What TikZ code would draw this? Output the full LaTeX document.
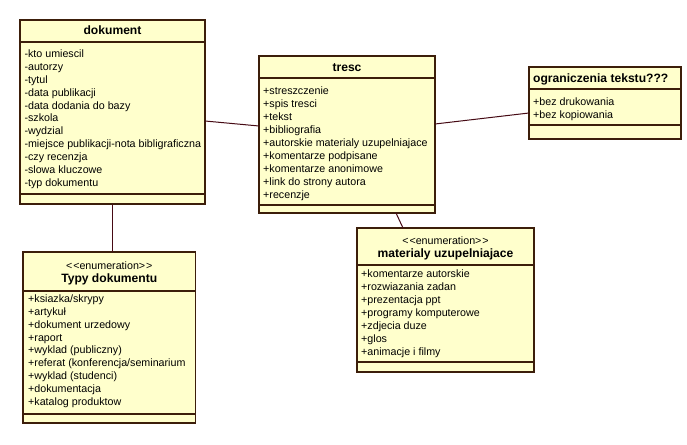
\documentclass[tikz,border=0pt]{standalone}
\usepackage{fontspec}
\setmainfont{Liberation Sans}
\definecolor{classfill}{RGB}{255,255,204}
\definecolor{classline}{RGB}{60,30,10}
\definecolor{linkline}{RGB}{70,10,20}
\tikzset{
  cls/.style={draw=classline, fill=classfill, line width=1.1pt, anchor=north west, inner sep=0pt, outer sep=0pt},
  sep/.style={draw=classline, line width=1.1pt},
  attr/.style={anchor=base west, inner sep=0pt, font=\fontsize{10.7}{13}\selectfont, text=black},
  ttl/.style={anchor=base, inner sep=0pt, font=\fontsize{12.1}{14}\selectfont\bfseries, text=black},
  ttlw/.style={ttl, anchor=base west},
  stereo/.style={anchor=base, inner sep=0pt, font=\fontsize{10.7}{13}\selectfont, text=black},
  link/.style={draw=linkline, line width=1pt},
}
\newcommand{\enumst}{<\kern1pt<enumeration>\kern1pt>}
\begin{document}
\begin{tikzpicture}[x=1pt,y=-1pt]
\useasboundingbox (0,0) rectangle (687,444);
\fill[white] (0,0) rectangle (687,444);

% ---------- dokument ----------
\node[cls, minimum width=185pt, minimum height=184pt] (dok) at (20,20) {};
\draw[sep] ([yshift=-22pt]dok.north west) -- ([yshift=-22pt]dok.north east);
\draw[sep] ([yshift=-174pt]dok.north west) -- ([yshift=-174pt]dok.north east);
\node[ttl] (dokT) at (112.5,35) {dokument};
\foreach \t [count=\i] in {-kto umiescil,-autorzy,-tytul,-data publikacji,-data dodania do bazy,-szkola,-wydzial,-miejsce publikacji-nota bibligraficzna,-czy recenzja,-slowa kluczowe,-typ dokumentu}
  \node[attr] (dokA\i) at (24.3,{57.3+12.93*(\i-1)}) {\t};

% ---------- tresc ----------
\node[cls, minimum width=176pt, minimum height=157pt] (tre) at (259,56) {};
\draw[sep] ([yshift=-22pt]tre.north west) -- ([yshift=-22pt]tre.north east);
\draw[sep] ([yshift=-149pt]tre.north west) -- ([yshift=-149pt]tre.north east);
\node[ttl] (treT) at (347,71.5) {tresc};
\foreach \t [count=\i] in {+streszczenie,+spis tresci,+tekst,+bibliografia,+autorskie materialy uzupelniajace,+komentarze podpisane,+komentarze anonimowe,+link do strony autora,+recenzje}
  \node[attr] (treA\i) at (263,{94+13*(\i-1)}) {\t};

% ---------- ograniczenia ----------
\node[cls, minimum width=152pt, minimum height=72pt] (ogr) at (529,67) {};
\draw[sep] ([yshift=-22pt]ogr.north west) -- ([yshift=-22pt]ogr.north east);
\draw[sep] ([yshift=-58pt]ogr.north west) -- ([yshift=-58pt]ogr.north east);
\node[ttlw] (ogrT) at (533,82.5) {ograniczenia tekstu???};
\node[attr] (ogrA1) at (533,105.5) {+bez drukowania};
\node[attr] (ogrA2) at (533,118) {+bez kopiowania};

% ---------- Typy dokumentu ----------
\node[cls, minimum width=172.5pt, minimum height=171pt] (typ) at (23,252) {};
\draw[sep] ([yshift=-39pt]typ.north west) -- ([yshift=-39pt]typ.north east);
\draw[sep] ([yshift=-162pt]typ.north west) -- ([yshift=-162pt]typ.north east);
\node[stereo] (typS) at (109.25,269) {\enumst};
\node[ttl] (typT) at (109.25,282.5) {Typy dokumentu};
\foreach \t [count=\i] in {+ksiazka/skrypy,+artykuł,+dokument urzedowy,+raport,+wyklad (publiczny),+referat (konferencja/seminarium,+wyklad (studenci),+dokumentacja,+katalog produktow}
  \node[attr] (typA\i) at (28,{302.3+12.9*(\i-1)}) {\t};

% ---------- materialy uzupelniajace ----------
\node[cls, minimum width=177pt, minimum height=144pt] (mat) at (357,228) {};
\draw[sep] ([yshift=-37pt]mat.north west) -- ([yshift=-37pt]mat.north east);
\draw[sep] ([yshift=-134pt]mat.north west) -- ([yshift=-134pt]mat.north east);
\node[stereo] (matS) at (445.5,244) {\enumst};
\node[ttl] (matT) at (445.5,257) {materialy uzupelniajace};
\foreach \t [count=\i] in {+komentarze autorskie,+rozwiazania zadan,+prezentacja ppt,+programy komputerowe,+zdjecia duze,+glos,+animacje i filmy}
  \node[attr] (matA\i) at (361,{277.3+13*(\i-1)}) {\t};

% ---------- connectors ----------
\draw[link] ([yshift=-9pt]dok.east) -- ([yshift=8.5pt]tre.west);
\draw[link] ([yshift=10.5pt]tre.east) -- ([yshift=-10pt]ogr.west);
\draw[link] (dok.south) -- (dok.south |- typ.north);
\draw[link] ([xshift=49pt]tre.south) -- ([xshift=-42.5pt]mat.north);
\end{tikzpicture}
\end{document}
